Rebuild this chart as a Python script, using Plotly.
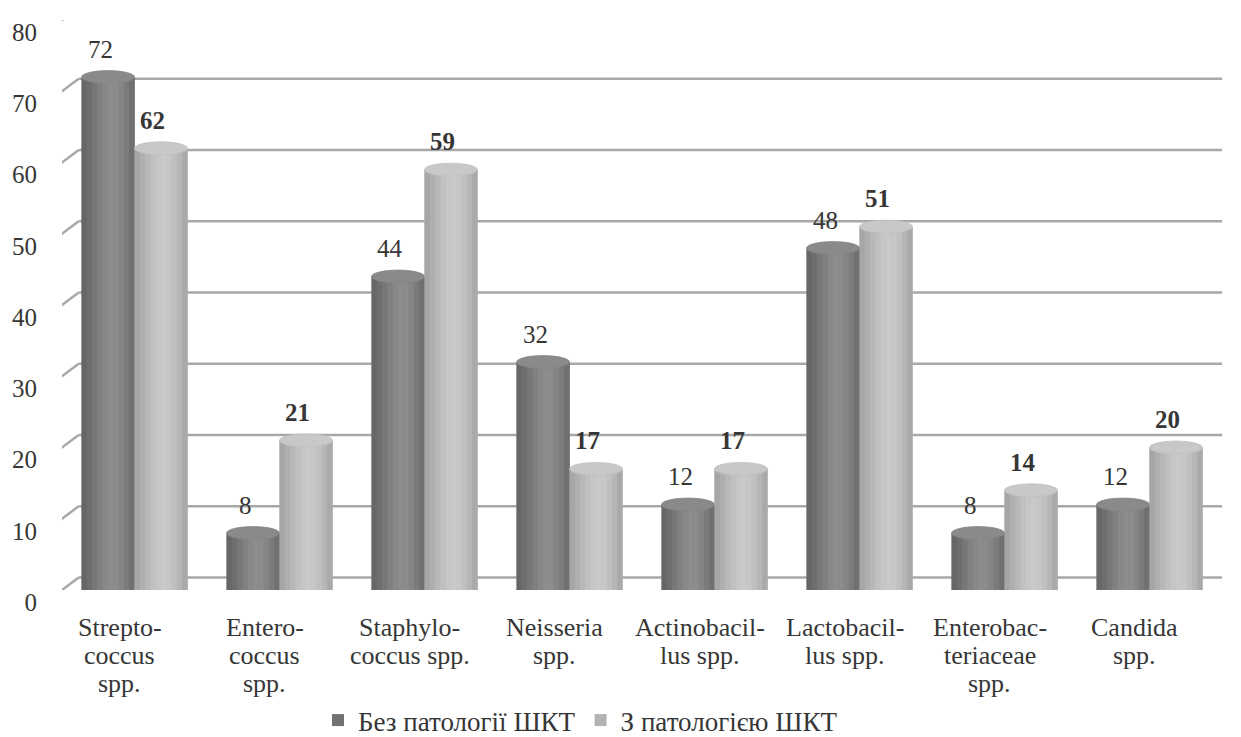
import plotly.graph_objects as go

# ---- data ----
categories = [
    ["Strepto-", "coccus", "spp."],
    ["Entero-", "coccus", "spp."],
    ["Staphylo-", "coccus spp."],
    ["Neisseria", "spp."],
    ["Actinobacil-", "lus spp."],
    ["Lactobacil-", "lus spp."],
    ["Enterobac-", "teriaceae", "spp."],
    ["Candida", "spp."],
]
series_names = ["Без патології ШКТ", "З патологією ШКТ"]
values_without = [72, 8, 44, 32, 12, 48, 8, 12]
values_with = [62, 21, 59, 17, 17, 51, 14, 20]
y_ticks = [0, 10, 20, 30, 40, 50, 60, 70, 80]

# ---- style ----
FONT = "Liberation Serif, Times New Roman, DejaVu Serif, serif"
TXT = "#363636"
GRID = "#a8a8a8"
BAR_W = 0.365
DEPTH_Y = 1.75      # perspective depth (y units)
DEPTH_X = 0.115     # perspective depth (x units)
CAP_H = 0.9         # half height of the cylinder ellipses

styles = [
    dict(base="#7a7a7a", grad=["#676767", "#6e6e6e", "#777777", "#808080", "#888888",
                               "#8d8d8d", "#8c8c8c", "#858585", "#7b7b7b", "#707070"],
         top="#8a8a8a", legend="#727272", bold=False),
    dict(base="#bcbcbc", grad=["#a6a6a6", "#afafaf", "#b8b8b8", "#c0c0c0", "#c6c6c6",
                               "#c9c9c9", "#c7c7c7", "#c0c0c0", "#b6b6b6", "#aaaaaa"],
         top="#c8c8c8", legend="#b3b3b3", bold=True),
]
series = [values_without, values_with]
offsets = [-BAR_W / 2, BAR_W / 2]

fig = go.Figure()
xs = list(range(len(categories)))
for s, (name, vals) in enumerate(zip(series_names, series)):
    fig.add_trace(go.Bar(
        x=xs, y=vals, name=name, width=BAR_W, offset=offsets[s] - BAR_W / 2,
        marker=dict(color=styles[s]["legend"], line=dict(width=0)),
        hoverinfo="skip",
    ))

shapes = []
# gridlines: back wall + perspective diagonals
for v in y_ticks:
    shapes.append(dict(type="line", xref="x", yref="y", layer="below",
                       x0=-0.5 + DEPTH_X, x1=7.62, y0=v + DEPTH_Y, y1=v + DEPTH_Y,
                       line=dict(color=GRID, width=2.5)))
    shapes.append(dict(type="line", xref="x", yref="y", layer="below",
                       x0=-0.5 - DEPTH_X, x1=-0.5 + DEPTH_X, y0=v - DEPTH_Y, y1=v + DEPTH_Y,
                       line=dict(color=GRID, width=2.5)))

annotations = []
for i in xs:
    for s in range(2):
        v = series[s][i]
        st = styles[s]
        cx = i + offsets[s]
        x0 = cx - BAR_W / 2
        n = len(st["grad"])
        # bottom ellipse
        shapes.append(dict(type="circle", xref="x", yref="y", layer="above",
                           x0=x0, x1=x0 + BAR_W, y0=-CAP_H * 0.8, y1=CAP_H * 0.8,
                           fillcolor=st["grad"][5], line=dict(width=0)))
        # shaded body strips
        for k, col in enumerate(st["grad"]):
            shapes.append(dict(type="rect", xref="x", yref="y", layer="above",
                               x0=x0 + BAR_W * k / n, x1=x0 + BAR_W * (k + 1) / n + 0.002,
                               y0=0, y1=v, fillcolor=col, line=dict(width=0)))
        # top ellipse
        shapes.append(dict(type="circle", xref="x", yref="y", layer="above",
                           x0=x0, x1=x0 + BAR_W, y0=v - CAP_H, y1=v + CAP_H,
                           fillcolor=st["top"], line=dict(color=st["grad"][7], width=0.8)))
        # value label
        annotations.append(dict(
            x=cx, y=v, xref="x", yref="y", xshift=-8, yshift=28,
            text=f"<b>{v}</b>" if st["bold"] else str(v), showarrow=False,
            font=dict(family=FONT, size=25, color=TXT), xanchor="center", yanchor="middle"))
    # category label lines
    for j, line in enumerate(categories[i]):
        annotations.append(dict(
            x=i, y=0, xref="x", yref="y", xshift=-15, yshift=-37 - 28 * j,
            text=line, showarrow=False, font=dict(family=FONT, size=26, color=TXT),
            xanchor="center", yanchor="middle"))

fig.update_layout(
    width=1233, height=729,
    margin=dict(l=54, r=19, t=12, b=147, autoexpand=False),
    paper_bgcolor="white", plot_bgcolor="white",
    barmode="overlay",
    showlegend=True,
    legend=dict(orientation="h", x=0.447, xanchor="center", y=-0.229, yanchor="middle",
                font=dict(family=FONT, size=27, color=TXT), itemwidth=30,
                traceorder="normal"),
    xaxis=dict(range=[-0.5, 7.5], showticklabels=False, showgrid=False,
               zeroline=False, showline=False, ticks=""),
    yaxis=dict(range=[0, 80], tickvals=y_ticks, showgrid=False, zeroline=False,
               showline=False, ticks="", ticklabelshift=12, ticklabelstandoff=24,
               tickfont=dict(family=FONT, size=25, color=TXT)),
    shapes=shapes, annotations=annotations,
    font=dict(family=FONT, color=TXT),
)

fig.write_html("out.html")
